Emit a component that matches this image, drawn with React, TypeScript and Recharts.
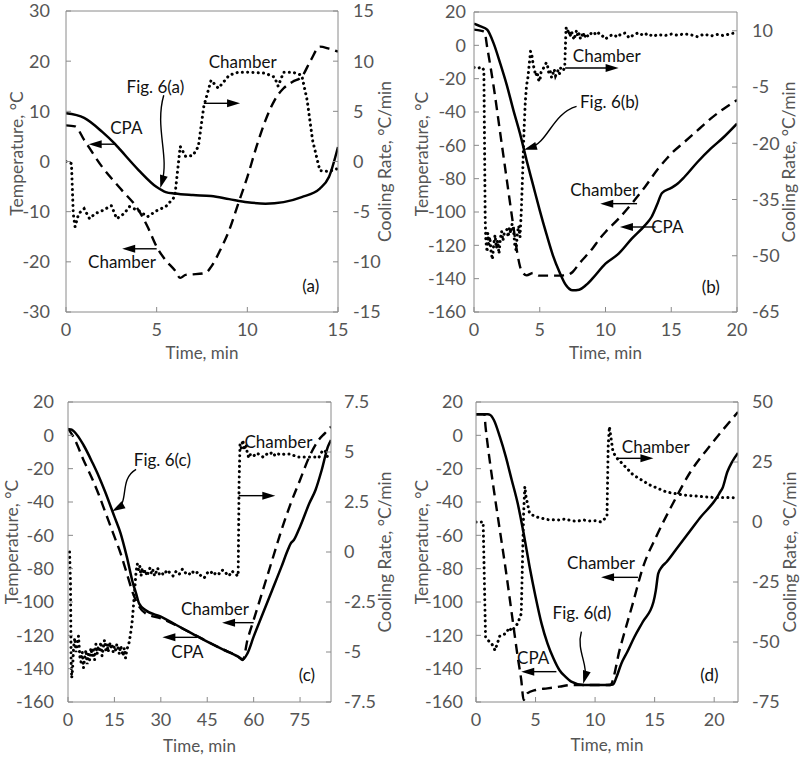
import React from 'react';
import { LineChart, Line, XAxis, YAxis, ReferenceLine, ReferenceDot } from 'recharts';

type P = [number, number];

// ---------- Panel (a) ----------
const aCpa: P[] = [[0,9.6],[1,8.7],[2,5.9],[2.7,3.5],[3,2.3],[4,-1.7],[5,-5.1],[5.5,-6.1],[6,-6.4],[7,-6.7],[8,-6.9],[9,-7.5],[10,-8.1],[11,-8.4],[12,-8.1],[13,-7.1],[14,-5.4],[14.5,-3.1],[15,2.9]];
const aChamber: P[] = [[0,7.2],[0.5,7.0],[1,4.3],[2,-1.1],[3,-5.4],[4,-9.7],[4.5,-13],[5,-17],[5.5,-19.7],[6,-21.7],[6.3,-23.2],[6.6,-22.6],[7,-22.5],[7.7,-22.2],[8,-21],[8.5,-17.7],[9,-13.7],[9.5,-8.4],[10,-3.1],[10.5,2.9],[11,8.2],[11.5,12.2],[12,14.6],[12.5,15.9],[13,16.9],[13.5,20.2],[14,22.9],[14.5,22.5],[15,21.9]];
const aRate: P[] = [[0,0],[0.3,-0.2],[0.4,-5.2],[0.5,-6.5],[0.7,-5.2],[1,-4.7],[1.3,-5.7],[1.6,-5.2],[2,-4.9],[2.5,-4.4],[2.8,-5.7],[3.2,-5.2],[3.5,-4.5],[4,-4.9],[4.5,-5.5],[5,-4.9],[5.5,-4.5],[6,-3.5],[6.3,1.5],[6.6,0.5],[7,0.6],[7.3,1.5],[7.6,5.5],[8,8.1],[8.4,7.3],[9,8.6],[9.5,8.9],[10,8.9],[11,8.8],[11.5,8.4],[11.7,7.5],[12,8.9],[12.5,8.9],[13,8.6],[13.3,6.1],[13.6,2.1],[14,-0.9],[14.5,-1.0],[15,-0.7]];

// ---------- Panel (b) ----------
const bCpa: P[] = [[0,13],[0.5,11.4],[1,9.4],[1.5,1],[2,-11],[2.5,-24],[3,-39],[3.5,-53],[4,-69],[4.5,-84],[5,-99],[5.5,-113],[6,-126],[6.5,-136],[7,-144],[7.5,-147],[8,-146.6],[8.5,-144],[9,-140],[10,-131],[11,-125],[12,-116],[13,-108],[13.5,-103],[13.9,-96],[14.3,-88.6],[15,-85.5],[15.4,-83.5],[16,-79],[17,-70],[18,-62],[19,-55],[20,-47]];
const bChamber: P[] = [[0,9.4],[0.5,8.8],[0.8,8],[1,-1],[1.5,-25],[2,-53],[2.5,-81],[3,-109],[3.3,-125],[3.6,-135],[4,-138],[4.5,-136.6],[5,-138.2],[6,-138.2],[7,-138],[7.5,-136],[8,-131],[9,-122],[9.6,-115.6],[10,-112],[11,-104],[12.1,-94],[13,-85],[14,-74],[14.7,-67.6],[15,-65],[16,-58],[17.2,-49.6],[18,-44],[19,-38],[20,-32.8]];
const bRate: P[] = [[0,0.2],[0.3,0],[0.6,0.3],[0.75,-0.5],[0.8,-20],[0.85,-40],[0.9,-46],[1.0,-49],[1.05,-44],[1.1,-47.5],[1.2,-45],[1.3,-49],[1.4,-51],[1.5,-47],[1.6,-44.5],[1.7,-48],[1.8,-46],[1.9,-49.5],[2.0,-45.5],[2.1,-43.5],[2.2,-46],[2.3,-44],[2.5,-43],[2.6,-45],[2.7,-42.5],[2.8,-44],[2.9,-41.5],[3.0,-43],[3.1,-47],[3.2,-48.5],[3.3,-44],[3.4,-42],[3.5,-45],[3.6,-38],[3.7,-28],[3.8,-17],[3.9,-9],[4.0,-4.5],[4.1,-2.5],[4.2,1],[4.3,4.5],[4.4,3.5],[4.5,1],[4.6,-0.5],[4.7,-2],[4.8,-1],[4.9,-3],[5.0,-3.5],[5.1,-1],[5.2,-0.5],[5.4,0.8],[5.5,1.5],[5.6,0.5],[5.7,-1.5],[5.8,-0.8],[5.9,-2.5],[6.0,-1.5],[6.1,-0.3],[6.2,-2],[6.4,-0.5],[6.5,-1.5],[6.6,0.2],[6.8,-0.5],[6.9,0.3],[7.0,10.8],[7.1,9.6],[7.2,10.3],[7.3,8.4],[7.4,9.8],[7.5,9.0],[7.6,7.6],[7.7,8.8],[7.8,10.1],[7.9,8.4],[8.0,9.3],[8.1,7.8],[8.2,8.6],[8.3,9.6],[8.4,8.1],[8.5,9.2],[8.7,8.4],[8.9,9.3],[9.1,9.7],[9.3,8.8],[9.5,9.4],[9.8,8.5],[10,7.8],[10.3,8.6],[10.6,9.0],[10.9,8.3],[11.2,9.2],[11.5,9.4],[11.8,8.1],[12.1,8.8],[12.5,9.5],[12.9,8.7],[13.2,9.3],[13.6,8.5],[14,9.0],[14.5,8.7],[15,9.1],[15.5,8.8],[16,9.2],[16.5,8.9],[17,8.4],[17.5,9.1],[18,8.6],[18.5,9.0],[19,8.7],[19.5,9.2],[20,9.5]];

// ---------- Panel (c) ----------
const cCpa: P[] = [[0,3.6],[1,3.5],[2,2.2],[5,-5.8],[8,-16.8],[10,-24.8],[12,-33.8],[15,-48.8],[17,-58.8],[19,-72.8],[21,-88.8],[22,-94.8],[23,-101],[25,-104.8],[30,-108.8],[35,-113.8],[40,-118.8],[45,-123.8],[50,-128.4],[55,-132.8],[56.5,-134.4],[58,-130.8],[60,-120.8],[63,-106.8],[66,-92.8],[69,-78.8],[71,-69],[72,-64.8],[73,-62.8],[75,-54.8],[78,-40.8],[80,-32.8],[82,-20.8],[84,-6.8],[85,-2.8]];
const cChamber: P[] = [[0,4.2],[2,-1.8],[5,-14.8],[8,-26.8],[10,-35.8],[12,-45.8],[15,-60.8],[17,-70.8],[19,-82.8],[21,-94.8],[23,-102.8],[25,-106.8],[30,-109.8],[40,-118.8],[50,-128.4],[55,-132.8],[56.5,-134.8],[58,-122.8],[60,-110.8],[63,-92.8],[66,-74.8],[69,-56.8],[72,-40.8],[75,-26.8],[78,-12.8],[81,-2.8],[83,1.2],[85,5.2]];
const cRate: P[] = [[0.5,0],[0.8,-1.5],[1.0,-5.5],[1.2,-6.3],[1.5,-5.8],[1.8,-4.8],[2.2,-4.3],[2.6,-5.0],[3.0,-4.6],[3.4,-4.2],[3.8,-5.2],[4.2,-5.5],[4.6,-5.0],[5.0,-5.8],[5.4,-5.3],[5.8,-4.9],[6.2,-5.6],[6.6,-5.1],[7.0,-5.4],[7.4,-4.8],[7.8,-5.2],[8.2,-4.9],[8.6,-5.4],[9.0,-4.6],[9.4,-5.1],[9.8,-4.7],[10.2,-5.0],[10.6,-4.5],[11.0,-5.2],[11.4,-4.8],[11.8,-4.4],[12.2,-4.9],[12.6,-4.6],[13.0,-5.0],[13.4,-4.5],[13.8,-4.8],[14.2,-4.6],[14.6,-5.0],[15.0,-4.7],[15.4,-4.9],[15.8,-4.6],[16.2,-4.8],[16.6,-5.1],[17.0,-4.7],[17.4,-4.9],[17.8,-5.2],[18.2,-4.8],[18.6,-5.3],[19.0,-4.9],[19.4,-4.7],[19.8,-4.5],[20.3,-4.0],[20.8,-3.4],[21.2,-2.6],[21.6,-1.8],[22.0,-1.0],[22.4,-0.6],[22.8,-0.9],[23.2,-0.7],[23.6,-1.2],[24.0,-0.8],[24.5,-1.1],[25,-0.9],[25.5,-1.2],[26,-1.0],[26.5,-0.8],[27,-1.1],[27.5,-0.9],[28,-1.2],[28.5,-1.0],[29,-0.8],[29.5,-1.1],[30,-1.0],[31,-1.15],[32,-0.9],[33,-1.05],[34,-1.2],[35,-0.95],[36,-1.1],[37,-0.85],[38,-1.05],[39,-1.15],[40,-0.95],[41,-1.1],[42,-1.0],[43,-1.2],[44,-1.3],[45,-1.05],[46,-0.95],[47,-1.15],[48,-1.0],[49,-1.1],[50,-0.9],[51,-1.05],[52,-1.2],[53,-0.95],[54,-1.1],[55,-1.2],[55.3,3.5],[55.6,5.4],[56,5.2],[56.5,5.6],[57,5.1],[57.5,5.4],[58,4.9],[58.5,4.7],[59,4.9],[60,4.8],[61,4.95],[62,4.85],[63,4.75],[64,4.9],[65,4.85],[66,5.0],[67,4.8],[68,4.9],[69,4.85],[70,4.9],[72,4.9],[74,4.75],[76,4.75],[78,4.75],[80,4.75],[81,4.7],[82,5.0],[83,5.1],[84,4.7],[85,4.7]];

// ---------- Panel (d) ----------
const dCpa: P[] = [[0,12.6],[1,12.6],[1.2,12.2],[1.5,9.2],[2,-0.8],[2.5,-12.8],[3,-26.8],[3.5,-40.8],[4,-58.8],[4.5,-78.8],[5,-96.8],[5.5,-112.8],[6,-124.8],[6.5,-133.8],[7,-140.8],[7.5,-144.8],[8,-147.8],[9,-149.8],[10,-149.8],[11,-149.8],[11.5,-149.5],[11.8,-145],[12.2,-137],[12.7,-130],[13.3,-121],[14,-112],[14.9,-100],[15.1,-93],[15.3,-83],[15.6,-79],[16,-76],[17,-66.5],[17.7,-60],[18.8,-49.6],[20.2,-37.6],[20.5,-34],[20.7,-31.6],[21.1,-22],[21.5,-16],[22,-10.6]];
const dChamber: P[] = [[0,12.6],[0.7,12.6],[0.8,5.2],[1,-6.8],[1.5,-32.8],[2,-56.8],[2.5,-80.8],[3,-106.8],[3.5,-132.8],[3.8,-146.8],[4,-158.8],[4.3,-154.8],[5,-152.8],[6,-151.8],[7,-150.8],[8,-149.8],[9,-149.8],[10,-149.8],[11,-149.8],[11.26,-149.8],[12.1,-127.6],[13.2,-100],[14,-79.6],[15.2,-59.8],[16.6,-40],[18,-22],[19.7,-5.8],[22,14]];
const dRate: P[] = [[0,0],[0.6,0],[0.7,-24],[0.8,-47.9],[1,-49.3],[1.3,-50.5],[1.6,-53.5],[2,-47.5],[2.5,-46.5],[2.8,-44],[3,-45.5],[3.5,-42.3],[3.8,-38.2],[4,3.6],[4.1,14.7],[4.2,10.5],[4.5,3.6],[5,2.2],[6,1.0],[7,0.8],[7.5,1.3],[8,0.5],[8.5,0.3],[9,0.9],[9.5,0.4],[10,0.5],[10.5,0],[11,2.2],[11.1,31.4],[11.2,39.7],[11.5,29.3],[11.8,26.7],[12,25.8],[13.2,19.6],[14.6,15.4],[16,12.5],[17.4,11.25],[19.4,10.4],[20,10.2],[21,10.2],[22,10]];

// ---------- Axis ticks ----------
const aXTicks = [0, 5, 10, 15];
const bXTicks = [0, 5, 10, 15, 20];
const cXTicks = [0, 15, 30, 45, 60, 75];
const dXTicks = [0, 5, 10, 15, 20];
const aLTicks = [-30, -20, -10, 0, 10, 20, 30];
const tempTicks = [-160, -140, -120, -100, -80, -60, -40, -20, 0, 20];
const aRTicks = [-15, -10, -5, 0, 5, 10, 15];
const bRTicks = [-65, -50, -35, -20, -5, 10];
const cRTicks = [-7.5, -5, -2.5, 0, 2.5, 5, 7.5];
const dRTicks = [-75, -50, -25, 0, 25, 50];

const AXIS = '#8a8a8a';
const TICK = '#555555';
const FONT = 'Lato, "Open Sans", sans-serif';

const pts = (a: P[]) => a.map(([t, v]) => ({ t, v }));

interface Note { x: number; y: number; text: string }
interface Arr { x1: number; y1: number; x2: number; y2: number; curve?: number }
interface Cfg {
  left: number; top: number; width: number; height: number; mt: number;
  lW: number; rW: number; xH: number;
  xDomain: [number, number]; xTicks: number[];
  lDomain: [number, number]; lTicks: number[];
  rDomain: [number, number]; rTicks: number[];
  cpa: P[]; chamber: P[]; rate: P[];
  notes: Note[]; arrows: Arr[];
  lGap: number; rGap: number;
  lTitleX: number; rTitleX: number; xTitleY: number; lTitleDy: number;
}

const renderArrow = (p: any, curve: number) => {
  const { x1, y1, x2, y2 } = p;
  if (![x1, y1, x2, y2].every((v) => typeof v === 'number' && isFinite(v))) return <g />;
  const dx = x2 - x1, dy = y2 - y1;
  const len = Math.hypot(dx, dy) || 1;
  const nx = -dy / len, ny = dx / len;
  let ex = dx / len, ey = dy / len;
  let d: string;
  if (curve) {
    const c1x = x1 + dx * 0.35 + nx * curve, c1y = y1 + dy * 0.35 + ny * curve;
    const c2x = x1 + dx * 0.65 - nx * curve, c2y = y1 + dy * 0.65 - ny * curve;
    const el = Math.hypot(x2 - c2x, y2 - c2y) || 1;
    ex = (x2 - c2x) / el; ey = (y2 - c2y) / el;
    d = `M${x1},${y1} C${c1x},${c1y} ${c2x},${c2y} ${x2 - ex * 6},${y2 - ey * 6}`;
  } else {
    d = `M${x1},${y1} L${x2 - ex * 8},${y2 - ey * 8}`;
  }
  const head = 13, hw = 4;
  const bx = x2 - ex * head, by = y2 - ey * head;
  const px = -ey, py = ex;
  return (
    <g>
      <path d={d} fill="none" stroke="#000" strokeWidth={1.4} />
      <polygon points={`${x2},${y2} ${bx + px * hw},${by + py * hw} ${bx - px * hw},${by - py * hw}`} fill="#000" />
    </g>
  );
};

const tickStyle = { fill: TICK, fontSize: 18, fontFamily: FONT };

const Panel = ({ c }: { c: Cfg }) => {
  const vTitle = (text: string, dxFromAxis: number, dy: number) => (lp: any) => {
    const vb = lp.viewBox || {};
    const cx = (vb.x ?? 0) + dxFromAxis;
    const cy = (vb.y ?? 0) + (vb.height ?? 0) / 2 + dy;
    return (
      <text transform={`translate(${cx},${cy}) rotate(-90)`} textAnchor="middle" dominantBaseline="central"
        fill={TICK} fontSize={17.5} fontFamily={FONT}>{text}</text>
    );
  };
  const hTitle = (lp: any) => {
    const vb = lp.viewBox || {};
    return (
      <text x={(vb.x ?? 0) + (vb.width ?? 0) / 2} y={(vb.y ?? 0) + c.xTitleY} textAnchor="middle" dominantBaseline="central"
        fill={TICK} fontSize={17} fontFamily={FONT}>Time, min</text>
    );
  };
  return (
    <div style={{ position: 'absolute', left: c.left, top: c.top }}>
      <LineChart width={c.width} height={c.height} margin={{ top: c.mt, right: 0, bottom: 0, left: 0 }}>
        <XAxis type="number" dataKey="t" domain={c.xDomain} ticks={c.xTicks} interval={0} height={c.xH}
          allowDataOverflow tickSize={-5} tickMargin={16} stroke={AXIS} tick={tickStyle} label={hTitle} />
        <YAxis yAxisId="l" type="number" domain={c.lDomain} ticks={c.lTicks} interval={0} width={c.lW}
          allowDataOverflow tickSize={-5} tickMargin={c.lGap + 5} stroke={AXIS} tick={tickStyle}
          label={vTitle('Temperature, °C', c.lTitleX, c.lTitleDy)} />
        <YAxis yAxisId="r" orientation="right" type="number" domain={c.rDomain} ticks={c.rTicks} interval={0} width={c.rW}
          allowDataOverflow tickSize={-5} tickMargin={c.rGap + 5} stroke={AXIS} tick={tickStyle}
          label={vTitle('Cooling Rate, °C/min', c.rTitleX, 0)} />
        <ReferenceLine yAxisId="l" y={c.lDomain[1]} stroke={AXIS} strokeWidth={1} />
        <Line yAxisId="r" data={pts(c.rate)} dataKey="v" type="linear" stroke="#000" strokeWidth={3}
          strokeDasharray="0.1 5.2" strokeLinecap="round" dot={false} isAnimationActive={false} />
        <Line yAxisId="l" data={pts(c.chamber)} dataKey="v" type="monotone" stroke="#000" strokeWidth={2.4}
          strokeDasharray="10 6" dot={false} isAnimationActive={false} />
        <Line yAxisId="l" data={pts(c.cpa)} dataKey="v" type="monotone" stroke="#000" strokeWidth={2.5}
          dot={false} isAnimationActive={false} />
        {c.arrows.map((a, i) => (
          <ReferenceLine key={'a' + i} yAxisId="l" ifOverflow="visible"
            segment={[{ x: a.x1, y: a.y1 }, { x: a.x2, y: a.y2 }]}
            shape={(p: any) => renderArrow(p, a.curve || 0)} />
        ))}
        {c.notes.map((n, i) => (
          <ReferenceDot key={'n' + i} yAxisId="l" x={n.x} y={n.y} r={0} fill="none" stroke="none" ifOverflow="visible"
            label={{ value: n.text, position: 'center', fill: '#111', fontSize: 17, fontFamily: FONT }} />
        ))}
      </LineChart>
    </div>
  );
};

const panels: Cfg[] = [
  {
    left: 0, top: 0, width: 400, height: 380, mt: 11, lW: 66, rW: 62, xH: 68,
    xDomain: [0, 15], xTicks: aXTicks, lDomain: [-30, 30], lTicks: aLTicks, rDomain: [-15, 15], rTicks: aRTicks,
    cpa: aCpa, chamber: aChamber, rate: aRate,
    notes: [
      { x: 9.74, y: 19.9, text: 'Chamber' }, { x: 4.93, y: 14.8, text: 'Fig. 6(a)' },
      { x: 3.33, y: 6.6, text: 'CPA' }, { x: 3.09, y: -20, text: 'Chamber' }, { x: 13.5, y: -24.9, text: '(a)' },
    ],
    arrows: [
      { x1: 7.6, y1: 11.6, x2: 9.6, y2: 11.6 }, { x1: 5.39, y1: 13.2, x2: 5.2, y2: -5.3, curve: 8 },
      { x1: 2.72, y1: 3.45, x2: 1.25, y2: 3.45 }, { x1: 5.0, y1: -17.4, x2: 3.1, y2: -17.4 },
    ],
    lGap: 16, rGap: 15, lTitleX: 16, rTitleX: 46, xTitleY: 40, lTitleDy: -8,
  },
  {
    left: 400, top: 0, width: 400, height: 380, mt: 12, lW: 74, rW: 63, xH: 68,
    xDomain: [0, 20], xTicks: bXTicks, lDomain: [-160, 20], lTicks: tempTicks, rDomain: [-65, 15], rTicks: bRTicks,
    cpa: bCpa, chamber: bChamber, rate: bRate,
    notes: [
      { x: 10.1, y: -6.6, text: 'Chamber' }, { x: 10.3, y: -34, text: 'Fig. 6(b)' },
      { x: 9.9, y: -87, text: 'Chamber' }, { x: 14.7, y: -109, text: 'CPA' }, { x: 18, y: -145, text: '(b)' },
    ],
    arrows: [
      { x1: 6.93, y1: -13.6, x2: 11.0, y2: -13.6 }, { x1: 7.8, y1: -36.6, x2: 3.8, y2: -62.6, curve: 10 },
      { x1: 12.4, y1: -95, x2: 9.6, y2: -95 }, { x1: 13.8, y1: -109, x2: 11.1, y2: -109 },
    ],
    lGap: 8, rGap: 15, lTitleX: 21, rTitleX: 51, xTitleY: 40, lTitleDy: -8,
  },
  {
    left: 0, top: 380, width: 400, height: 377, mt: 22, lW: 68, rW: 69, xH: 55,
    xDomain: [0, 85], xTicks: cXTicks, lDomain: [-160, 20], lTicks: tempTicks, rDomain: [-7.5, 7.5], rTicks: cRTicks,
    cpa: cCpa, chamber: cChamber, rate: cRate,
    notes: [
      { x: 68, y: -3.8, text: 'Chamber' }, { x: 30.5, y: -14.8, text: 'Fig. 6(c)' },
      { x: 47.5, y: -104.4, text: 'Chamber' }, { x: 38.6, y: -129.8, text: 'CPA' }, { x: 77.2, y: -143.8, text: '(c)' },
    ],
    arrows: [
      { x1: 55.2, y1: -36.2, x2: 67, y2: -36.2 }, { x1: 22, y1: -20.4, x2: 14.3, y2: -45.5, curve: 10 },
      { x1: 60, y1: -112.4, x2: 49.8, y2: -112.4 }, { x1: 41.8, y1: -121.2, x2: 30.5, y2: -121.2 },
    ],
    lGap: 14, rGap: 13, lTitleX: 11, rTitleX: 53, xTitleY: 43, lTitleDy: -10,
  },
  {
    left: 400, top: 380, width: 400, height: 377, mt: 22, lW: 76, rW: 62, xH: 55,
    xDomain: [0, 22], xTicks: dXTicks, lDomain: [-160, 20], lTicks: tempTicks, rDomain: [-75, 50], rTicks: dRTicks,
    cpa: dCpa, chamber: dChamber, rate: dRate,
    notes: [
      { x: 15.1, y: -6.8, text: 'Chamber' }, { x: 10.5, y: -76.4, text: 'Chamber' },
      { x: 8.9, y: -106.8, text: 'Fig. 6(d)' }, { x: 4.8, y: -133.8, text: 'CPA' }, { x: 19.6, y: -143.8, text: '(d)' },
    ],
    arrows: [
      { x1: 11.8, y1: -13.8, x2: 14.9, y2: -13.8 }, { x1: 13.6, y1: -85.2, x2: 10.5, y2: -85.2 },
      { x1: 8.85, y1: -117.8, x2: 9.0, y2: -149, curve: 6 }, { x1: 6.75, y1: -141.8, x2: 3.8, y2: -141.8 },
    ],
    lGap: 13, rGap: 14, lTitleX: 21, rTitleX: 51, xTitleY: 42, lTitleDy: -10,
  },
];

export default function App() {
  return (
    <div style={{ position: 'absolute', left: 0, top: 0, width: 800, height: 757, background: '#fff' }}>
      {panels.map((c, i) => <Panel key={i} c={c} />)}
    </div>
  );
}
